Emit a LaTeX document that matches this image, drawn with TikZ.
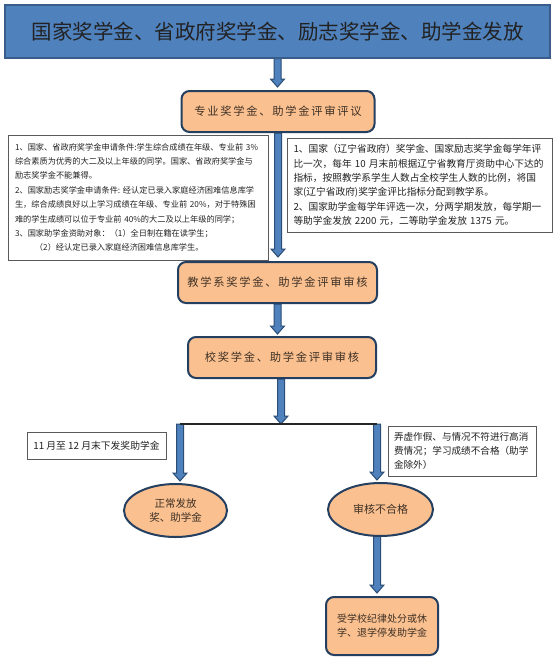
\documentclass[tikz,border=0pt]{standalone}
\usepackage{fontspec}
\setmainfont{Noto Sans CJK SC}
\usetikzlibrary{shapes.geometric,calc}
\definecolor{titleblue}{HTML}{4F81BD}
\definecolor{titleborder}{HTML}{385D8A}
\definecolor{boxorange}{HTML}{FAC090}
\definecolor{boxborder}{HTML}{243F60}
\definecolor{arrowborder}{HTML}{2C4D75}
\definecolor{txtdark}{HTML}{222222}
\definecolor{txtbrown}{HTML}{3F3125}
\definecolor{noteborder}{HTML}{5A5A5A}
\pgfdeclarelayer{back}
\pgfdeclarelayer{bg}
\pgfsetlayers{back,bg,main}
\tikzset{
  titlebox/.style={draw=titleborder, line width=1.5, fill=titleblue, minimum width=545, minimum height=53, inner sep=0, text=txtdark, font=\fontsize{20.5}{24}\selectfont},
  stepbox/.style={draw=boxborder, line width=2, fill=boxorange, rounded corners=8, inner sep=0, text=txtbrown, align=center, font=\fontsize{11.3}{14}\selectfont\addfontfeature{LetterSpace=15}},
  notebox/.style={draw=noteborder, line width=1, fill=white, inner ysep=0, align=left, text=txtdark},
  oval/.style={ellipse, draw=boxborder, line width=2, fill=boxorange, inner sep=0, text=txtbrown, align=center},
  blockarrow/.style={fill=titleblue, draw=arrowborder, line width=1},
  joinline/.style={draw=black!85, line width=1.5},
}
\newcommand\blkarrow[2]{%
  \path[blockarrow] let \p1=(#1), \p2=(#2) in
    (\x1-3.5pt,\y1) -- (\x1-3.5pt,\y2+8pt) -- (\x1-7pt,\y2+8pt) -- (\x1,\y2)
    -- (\x1+7pt,\y2+8pt) -- (\x1+3.5pt,\y2+8pt) -- (\x1+3.5pt,\y1) -- cycle;}
\begin{document}
\begin{tikzpicture}[x=1pt,y=-1pt]
\begin{pgfonlayer}{back}
  \fill[white] (0,0) rectangle (554,661);
\end{pgfonlayer}
\useasboundingbox (0,0) rectangle (554,661);

\node[titlebox] (title) at (277.5,31.5) {国家奖学金、省政府奖学金、励志奖学金、助学金发放};

\node[stepbox, minimum width=193, minimum height=41] (box1) at (278,111.5) {专业奖学金、助学金评审评议};

\node[notebox, minimum width=260, minimum height=125, text width=246, inner xsep=7,
      font=\fontsize{8.2}{14.4}\selectfont] (noteL) at (138,197.5)
 {1、国家、省政府奖学金申请条件:学生综合成绩在年级、专业前~3\%\\
  综合素质为优秀的大二及以上年级的同学。国家、省政府奖学金与\\
  励志奖学金不能兼得。\\
  2、国家励志奖学金申请条件:~经认定已录入家庭经济困难信息库学\\
  生，综合成绩良好以上学习成绩在年级、专业前~20\%，对于特殊困\\
  难的学生成绩可以位于专业前~40\%的大二及以上年级的同学；\\
  3、国家助学金资助对象：（1）全日制在籍在读学生；\\
  \hspace*{20pt}（2）经认定已录入家庭经济困难信息库学生。};

\node[notebox, minimum width=265, minimum height=94, text width=252, inner xsep=6.5,
      font=\fontsize{9.7}{14.3}\selectfont] (noteR) at (419.5,185)
 {1、国家（辽宁省政府）奖学金、国家励志奖学金每学年评\\
  比一次，每年~10~月末前根据辽宁省教育厅资助中心下达的\\
  指标，按照教学系学生人数占全校学生人数的比例，将国\\
  家(辽宁省政府)奖学金评比指标分配到教学系。\\
  2、国家助学金每学年评选一次，分两学期发放，每学期一\\
  等助学金发放~2200~元，二等助学金发放~1375~元。};

\node[stepbox, minimum width=199, minimum height=41] (box2) at (277.5,282.5) {教学系奖学金、助学金评审审核};
\node[stepbox, minimum width=188, minimum height=41] (box3) at (282,357.5) {校奖学金、助学金评审审核};

\coordinate (jl) at (180,424);
\coordinate (jr) at (377,424);

\node[notebox, minimum width=139, minimum height=27, inner xsep=6, align=center,
      font=\fontsize{9.8}{12}\selectfont] (noteA) at (96.5,445.5) {11~月至~12~月末下发奖助学金};
\node[notebox, minimum width=148, minimum height=50, text width=136, inner xsep=6,
      font=\fontsize{9.6}{14}\selectfont] (noteB) at (462,451)
 {弄虚作假、与情况不符进行高消\\
  费情况；学习成绩不合格（助学\\
  金除外）};

\node[oval, minimum width=103, minimum height=53, font=\fontsize{10.5}{14}\selectfont] (ell1) at (175.5,510.5) {正常发放\\奖、助学金};
\node[oval, minimum width=105, minimum height=53, font=\fontsize{11}{14}\selectfont] (ell2) at (380.5,509.5) {审核不合格};

\node[stepbox, minimum width=112, minimum height=58, font=\fontsize{10}{14}\selectfont] (box4) at (382,626) {受学校纪律处分或休\\学、退学停发助学金};

\begin{pgfonlayer}{bg}
  \blkarrow{title.south}{$(title.south |- box1.north)+(0,-3)$}
  \blkarrow{box1.south}{$(box1.south |- box2.north)+(0,-4)$}
  \blkarrow{box2.south}{$(box2.south |- box3.north)+(0,-2)$}
  \blkarrow{$(box3.south)+(-1,0)$}{$(box3.south |- jl)+(-1,0)$}
  \blkarrow{jl}{$(jl |- ell1.north)+(0,-2)$}
  \blkarrow{jr}{$(jr |- ell2.north)+(0,-2)$}
  \blkarrow{$(jr |- ell2.south)+(0,-2)$}{$(jr |- box4.north)+(0,-3)$}
\end{pgfonlayer}
\draw[joinline] (jl) -- (jr);
\end{tikzpicture}
\end{document}
